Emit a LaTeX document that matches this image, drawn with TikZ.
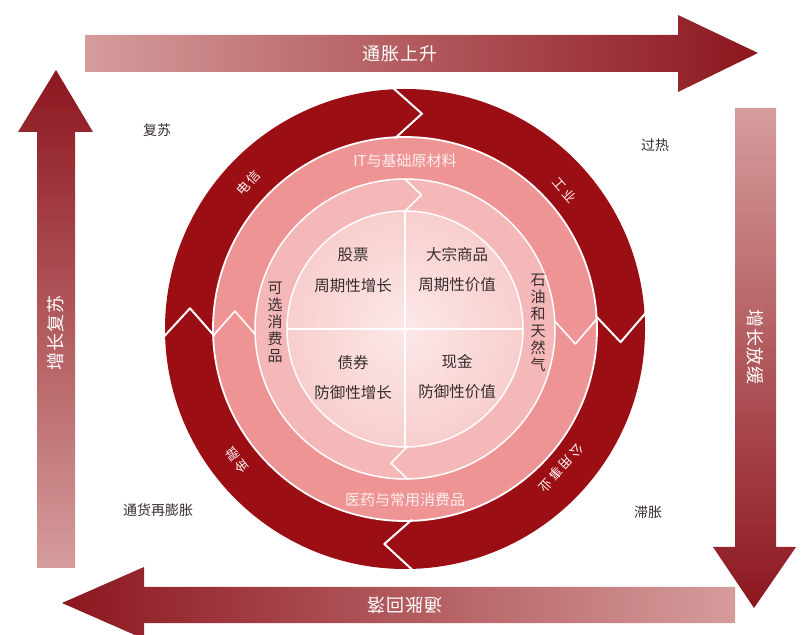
\documentclass[tikz,border=0pt]{standalone}
\usepackage{fontspec}
\setmainfont{Noto Sans CJK SC}
\usetikzlibrary{calc}
\definecolor{clkDark}{RGB}{155, 14, 20}
\definecolor{clkPink}{RGB}{239, 148, 148}
\definecolor{clkPinkLight}{RGB}{245, 184, 184}
\definecolor{clkCore}{RGB}{248, 206, 206}
\definecolor{clkCoreMid}{RGB}{252, 232, 232}
\definecolor{clkArrowLight}{RGB}{214, 156, 156}
\definecolor{clkArrowDark}{RGB}{140, 22, 30}
\definecolor{clkText}{RGB}{55, 45, 45}

\begin{document}
\begin{tikzpicture}[x=1pt, y=1pt, line cap=round, line join=round,
    arrowtxt/.style={text=white, font=\fontsize{18}{18}\selectfont\addfontfeature{LetterSpace=6}},
    phasetxt/.style={text=clkText, font=\fontsize{14}{14}\selectfont},
    ringtxt/.style={text=white!92!clkPink, font=\fontsize{13}{13}\selectfont\addfontfeature{LetterSpace=20}},
    bandtxt/.style={text=white!85!clkPink, font=\fontsize{15}{15}\selectfont},
    sidetxt/.style={text=clkText, align=center, inner sep=0pt, font=\fontsize{15}{17}\selectfont},
    quadtxt/.style={text=clkText, font=\fontsize{15.5}{15.5}\selectfont},
    gap/.style={white, line width=1.8pt}]
        \useasboundingbox (0,0) rectangle (805,634);
        \clip (0,0) rectangle (805,634);
        % big arrows round the clock
        \shade[left color=clkArrowLight, right color=clkArrowDark]
            (85,562) -- (678,562) -- (678,542) -- (758,581) -- (678,619) -- (678,599) -- (85,599) -- cycle;
        \shade[top color=clkArrowLight, bottom color=clkArrowDark]
            (735,526) -- (776,526) -- (776,87) -- (796,87) -- (754,26) -- (713,87) -- (735,87) -- cycle;
        \shade[left color=clkArrowDark, right color=clkArrowLight]
            (735,47) -- (144,47) -- (144,67) -- (62,31) -- (144,-5) -- (144,11) -- (735,11) -- cycle;
        \shade[top color=clkArrowDark, bottom color=clkArrowLight]
            (37,66) -- (37,502) -- (18,502) -- (56,564) -- (93,502) -- (75,502) -- (75,66) -- cycle;
        \node[arrowtxt] (rise) at (400,580) {通胀上升};
        \node[arrowtxt, rotate=-90] (slow) at (755,287) {增长放缓};
        \node[arrowtxt, rotate=180] (fall) at (405,29) {通胀回落};
        \node[arrowtxt, rotate=90] (grow) at (56,301) {增长复苏};
        % phase names in the corners
        \node[phasetxt] (recover) at (157,504) {复苏};
        \node[phasetxt] (overheat) at (655,489) {过热};
        \node[phasetxt] (reflate) at (158,124) {通货再膨胀};
        \node[phasetxt] (stagflate) at (648,122) {滞胀};
        % the clock itself
        \begin{scope}[shift={(405,305)}]
            \fill[clkDark] (0,0) circle[radius=240];
            \fill[clkPink] (0,0) circle[radius=192];
            \fill[clkPinkLight] (0,0) circle[radius=150];
            \shade[inner color=clkCoreMid, outer color=clkCore] (0,0) circle[radius=118];
            \draw[gap] (0,0) circle[radius=192];
            \draw[gap, line width=1.5pt] (0,0) circle[radius=150];
            \draw[gap, line width=1.5pt] (0,0) circle[radius=118];
            \draw[gap] (-118,0) -- (118,0);
            \draw[gap] (0,-118) -- (0,118);
            \foreach \a in {93,4,272,182}
                \draw[gap, line width=2pt] (\a:242) -- (\a-7.5:216) -- (\a:191);
            \foreach \a in {182,3}
                \draw[gap, line width=1.6pt] (\a:192) -- (\a-8:171) -- (\a:150);
            \foreach \a in {90,271}
                \draw[gap, line width=1.6pt] (\a:150) -- (\a-7:135) -- (\a:118);
            \node[ringtxt, rotate=47] (tele) at (137:214) {电信};
            \node[ringtxt, rotate=-49] (indus) at (41:212) {工业};
            \node[ringtxt, rotate=-132] (util) at (-41.7:209) {公用事业};
            \node[ringtxt, rotate=128] (fin) at (218:213) {金融};
            \node[bandtxt] (itmat) at (0,168) {IT与基础原材料};
            \node[bandtxt] (pharma) at (0,-171) {医药与常用消费品};
            \node[sidetxt] (discr) at (-130,7) {可\\选\\消\\费\\品};
            \node[sidetxt] (oilgas) at (133,6) {石\\油\\和\\天\\然\\气};
            \node[quadtxt] (stock) at (-52,74) {股票};
            \node[quadtxt] (stocksub) at (-52,43) {周期性增长};
            \node[quadtxt] (commod) at (52,74) {大宗商品};
            \node[quadtxt] (commodsub) at (52,44) {周期性价值};
            \node[quadtxt] (bond) at (-52,-34) {债券};
            \node[quadtxt] (bondsub) at (-52,-64) {防御性增长};
            \node[quadtxt] (cash) at (52,-33) {现金};
            \node[quadtxt] (cashsub) at (52,-63) {防御性价值};
        \end{scope}
    \end{tikzpicture}
\end{document}
